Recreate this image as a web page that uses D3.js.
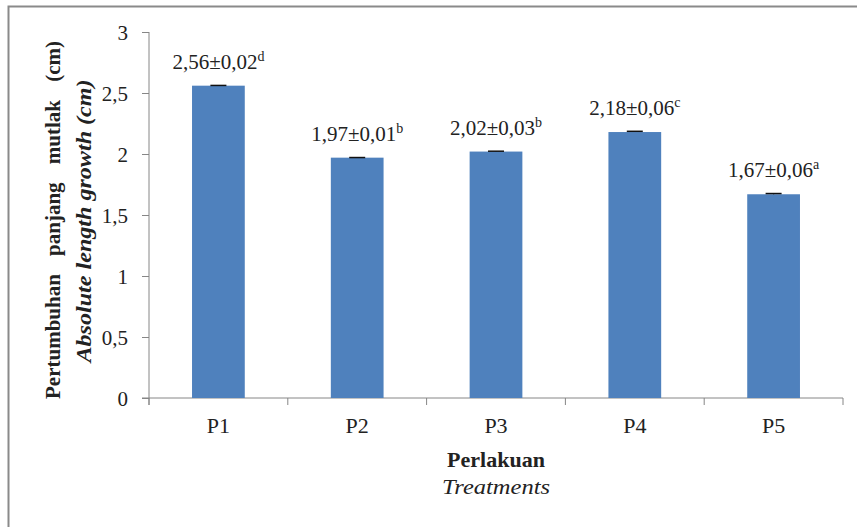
<!DOCTYPE html>
<html>
<head>
<meta charset="utf-8">
<script src="https://d3js.org/d3.v7.min.js"></script>
<style>
  body { margin: 0; background: #fff; }
  text { font-family: "Liberation Serif", "Times New Roman", serif; fill: #222; }
</style>
</head>
<body>
<div id="chart"></div>
<script>
    // data
    var categories = ["P1", "P2", "P3", "P4", "P5"];
    var means = [2.56, 1.97, 2.02, 2.18, 1.67];
    var sds = [0.02, 0.01, 0.03, 0.06, 0.06];
    var letters = ["d", "b", "b", "c", "a"];
    var yTicks = [0, 0.5, 1, 1.5, 2, 2.5, 3];

    var W = 857, H = 527;
    var margin = { top: 32, right: 14, bottom: 129, left: 149 },
        width = W - margin.left - margin.right,
        height = H - margin.top - margin.bottom;

    var svg = d3.select("#chart").append("svg")
        .attr("width", W)
        .attr("height", H);

    // outer frame (runs off right/bottom like the crop)
    svg.append("rect")
        .attr("x", 8.5).attr("y", 6.5)
        .attr("width", W).attr("height", H)
        .attr("fill", "none")
        .attr("stroke", "#8a8a8a")
        .attr("stroke-width", 2);

    var g = svg.append("g")
        .attr("transform", "translate(" + margin.left + "," + margin.top + ")");

    var x = d3.scaleBand().domain(categories).range([0, width]).paddingInner(0.62).paddingOuter(0.31);
    var y = d3.scaleLinear().domain([0, 3]).range([height, 0]);
    var fmt = function (v) { return String(v).replace(".", ","); };
    var fmt2 = function (v) { return v.toFixed(2).replace(".", ","); };

    // y axis
    var yAxis = g.append("g")
        .call(d3.axisLeft(y).tickValues(yTicks).tickSize(7).tickFormat(fmt));
    yAxis.select(".domain").remove();
    yAxis.selectAll("line").attr("stroke", "#868686");
    yAxis.selectAll("text").attr("font-size", 21).attr("x", -21).attr("dy", "0.35em")
        .attr("fill", "#222")
        .style("font-family", "Liberation Serif");
    g.append("line")
        .attr("x1", 0).attr("x2", 0).attr("y1", 0).attr("y2", height + 7)
        .attr("stroke", "#868686");

    // x axis: ticks at category boundaries
    g.append("line")
        .attr("x1", -7).attr("x2", width).attr("y1", height).attr("y2", height)
        .attr("stroke", "#868686");
    var step = x.step();
    g.selectAll(".xtick")
        .data(d3.range(categories.length + 1))
        .enter().append("line")
        .attr("x1", function (i) { return i === 0 ? 0 : x(categories[i - 1]) + x.bandwidth() + (step - x.bandwidth()) / 2; })
        .attr("x2", function (i) { return i === 0 ? 0 : x(categories[i - 1]) + x.bandwidth() + (step - x.bandwidth()) / 2; })
        .attr("y1", height).attr("y2", height + 7)
        .attr("stroke", "#868686");

    g.selectAll(".xlab")
        .data(categories)
        .enter().append("text")
        .attr("x", function (d) { return x(d) + x.bandwidth() / 2; })
        .attr("y", height + 35)
        .attr("text-anchor", "middle")
        .attr("font-size", 22)
        .text(function (d) { return d; });

    // bars
    g.selectAll(".bar")
        .data(means)
        .enter().append("rect")
        .attr("x", function (d, i) { return x(categories[i]); })
        .attr("y", function (d) { return y(d); })
        .attr("width", x.bandwidth())
        .attr("height", function (d) { return height - y(d); })
        .attr("fill", "#4f81bd");

    // error bars (tiny)
    var cap = 8;
    means.forEach(function (m, i) {
        var cx = x(categories[i]) + x.bandwidth() / 2;
        g.append("line")
            .attr("x1", cx).attr("x2", cx)
            .attr("y1", y(m + sds[i] / 10)).attr("y2", y(m))
            .attr("stroke", "#111").attr("stroke-width", 1.2);
        g.append("line")
            .attr("x1", cx - cap).attr("x2", cx + cap)
            .attr("y1", y(m + sds[i] / 10)).attr("y2", y(m + sds[i] / 10))
            .attr("stroke", "#111").attr("stroke-width", 1.5);
    });

    // value labels
    means.forEach(function (m, i) {
        var t = g.append("text")
            .attr("x", x(categories[i]) + x.bandwidth() / 2)
            .attr("y", y(m) - 17)
            .attr("text-anchor", "middle")
            .attr("font-size", 21);
        t.append("tspan").text(fmt2(m) + "\u00b1" + fmt2(sds[i]));
        t.append("tspan").attr("font-size", 14).attr("dy", -8).text(letters[i]);
    });

    // y axis title - first line is justified with wide word gaps
    var t1 = svg.append("text")
        .attr("transform", "translate(60,220) rotate(-90)")
        .attr("text-anchor", "middle")
        .attr("font-size", 21)
        .attr("font-weight", "bold")
        .text("Pertumbuhan panjang mutlak (cm)");
    var len1 = t1.node().getComputedTextLength();
    t1.attr("word-spacing", Math.max(0, (358 - len1) / 3));
    svg.append("text")
        .attr("transform", "translate(91,221) rotate(-90)")
        .attr("text-anchor", "middle")
        .attr("font-size", 21)
        .attr("font-weight", "bold")
        .attr("font-style", "italic")
        .attr("textLength", 283)
        .attr("lengthAdjust", "spacingAndGlyphs")
        .text("Absolute length growth (cm)");

    // x axis title
    var cx0 = margin.left + width / 2;
    svg.append("text")
        .attr("x", cx0).attr("y", 467)
        .attr("text-anchor", "middle")
        .attr("font-size", 22)
        .attr("font-weight", "bold")
        .text("Perlakuan");
    svg.append("text")
        .attr("x", cx0).attr("y", 494)
        .attr("text-anchor", "middle")
        .attr("font-size", 22)
        .attr("font-style", "italic")
        .attr("textLength", 108)
        .attr("lengthAdjust", "spacingAndGlyphs")
        .text("Treatments");
</script>
</body>
</html>
